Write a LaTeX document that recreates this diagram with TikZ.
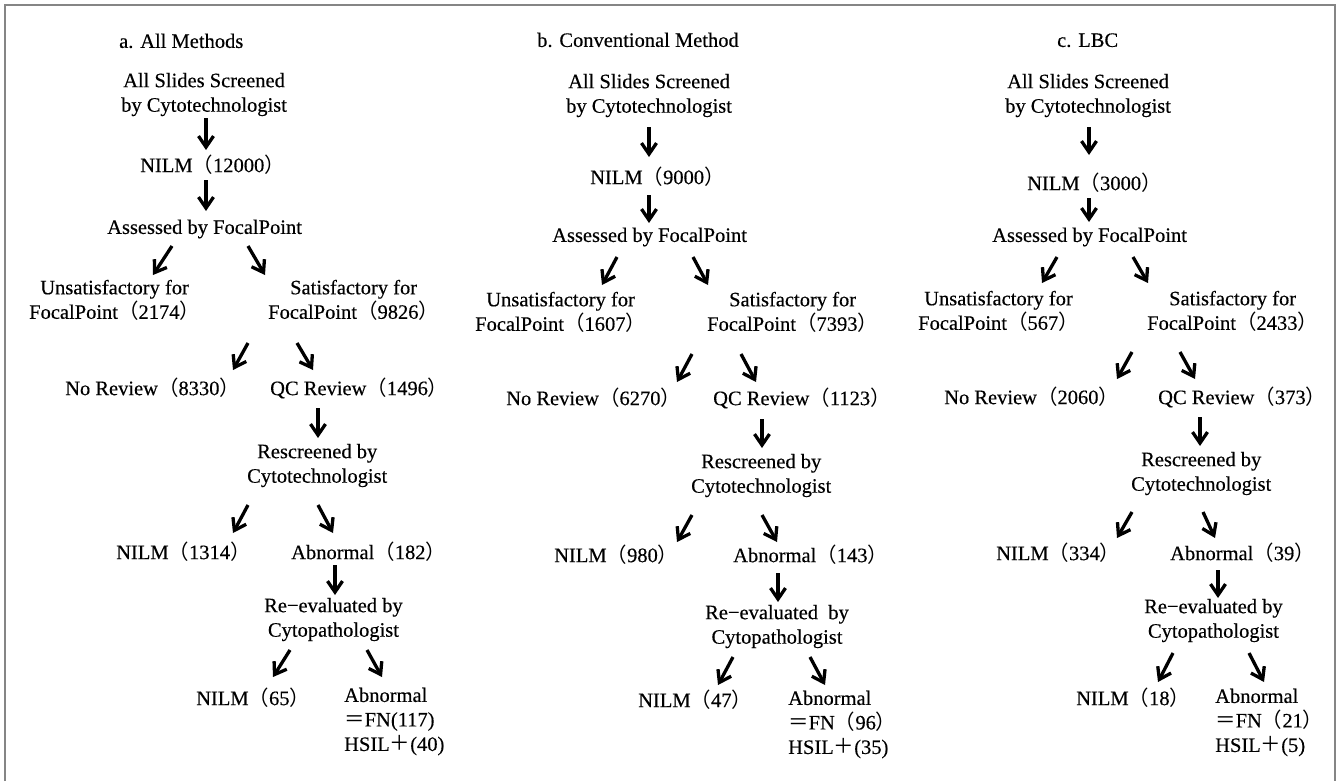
\documentclass[tikz,border=0pt]{standalone}
\usepackage{fontspec}
\setmainfont{Liberation Serif}[FakeBold=0.35]
\newfontfamily\cjk{Noto Sans CJK SC}
\usetikzlibrary{arrows.meta}
\newcommand\lp{{\cjk （}}
\newcommand\rp{{\cjk ）}}
\newcommand\feq{{\cjk ＝}}
\newcommand\fpl{{\cjk ＋}}
\newcommand\link[4]{\draw[arr] ([shift={(#2)}]#1.west) -- ([shift={(#4)}]#3.west);}
\begin{document}
\begin{tikzpicture}[x=1bp,y=-1bp,
  lbl/.style={inner sep=0pt, align=center, anchor=west, font=\fontsize{20.5bp}{24.5bp}\selectfont,
    execute at begin node=\strut, execute at end node=\strut},
  lblL/.style={lbl, align=left},
  arr/.style={line width=3.3bp, line cap=butt, -{Straight Barb[length=11bp,width=15bp,line width=3.3bp]}},
  frame/.style={draw=black!48, line width=2bp}]
\useasboundingbox (0,0) rectangle (1338,781);
\draw[frame] (5,781) -- (5,5) -- (1335,5) -- (1335,781);

% ---------- panel a ----------
\node[lbl] (ta) at (119,43) {a. All Methods};
\node[lbl] (a1) at (121,96) {All Slides Screened\\by Cytotechnologist};
\node[lbl] (a2) at (140,167) {NILM\lp 12000\rp};
\node[lbl] (a3) at (107,229) {Assessed by FocalPoint};
\node[lbl] (a4) at (29,303) {Unsatisfactory for\\FocalPoint\lp 2174\rp};
\node[lbl] (a5) at (268,303) {Satisfactory for\\FocalPoint\lp 9826\rp};
\node[lbl] (a6) at (65,390) {No Review\lp 8330\rp};
\node[lbl] (a7) at (270,390) {QC Review\lp 1496\rp};
\node[lbl] (a8) at (247,467) {Rescreened by\\Cytotechnologist};
\node[lbl] (a9) at (116,554) {NILM\lp 1314\rp};
\node[lbl] (a10) at (291,554) {Abnormal\lp 182\rp};
\node[lbl] (a11) at (264,621) {Re−evaluated by\\Cytopathologist};
\node[lbl] (a12) at (196,700) {NILM\lp 65\rp};
\node[lblL] (a13) at (344,723) {Abnormal\\\feq FN(117)\\HSIL\fpl(40)};

\link{a1}{85,22}{a2}{66,-17}
\link{a2}{66,13}{a3}{99,-18}
\link{a3}{65,17}{a4}{124,-28}
\link{a3}{141,17}{a5}{-3,-28}
\link{a5}{-20,40}{a6}{168,-20}
\link{a5}{29,40}{a7}{43,-20}
\link{a7}{48,18}{a8}{71,-29}
\link{a8}{1,38}{a9}{117,-21}
\link{a8}{71,38}{a10}{42,-21}
\link{a10}{44,11}{a11}{71,-26}
\link{a11}{26,29}{a12}{77,-23}
\link{a11}{103,29}{a13}{38,-46}

% ---------- panel b ----------
\node[lbl] (tb) at (537,42) {b. Conventional Method};
\node[lbl] (b1) at (566,97) {All Slides Screened\\by Cytotechnologist};
\node[lbl] (b2) at (590,179) {NILM\lp 9000\rp};
\node[lbl] (b3) at (552,237) {Assessed by FocalPoint};
\node[lbl] (b4) at (475,315) {Unsatisfactory for\\FocalPoint\lp 1607\rp};
\node[lbl] (b5) at (707,315) {Satisfactory for\\FocalPoint\lp 7393\rp};
\node[lbl] (b6) at (506,400) {No Review\lp 6270\rp};
\node[lbl] (b7) at (713,400) {QC Review\lp 1123\rp};
\node[lbl] (b8) at (691,477) {Rescreened by\\Cytotechnologist};
\node[lbl] (b9) at (554,557) {NILM\lp 980\rp};
\node[lbl] (b10) at (733,557) {Abnormal\lp 143\rp};
\node[lbl] (b11) at (705,628) {Re−evaluated\ \ by\\Cytopathologist};
\node[lbl] (b12) at (638,702) {NILM\lp 47\rp};
\node[lblL] (b13) at (788,726) {Abnormal\\\feq FN\lp 96\rp\\HSIL\fpl(35)};

\link{b1}{83,30}{b2}{59,-22}
\link{b2}{59,16}{b3}{97,-14}
\link{b3}{65,20}{b4}{127,-30}
\link{b3}{141,20}{b5}{1,-30}
\link{b5}{-15,39}{b6}{171,-18}
\link{b5}{34,39}{b7}{43,-18}
\link{b7}{49,19}{b8}{71,-29}
\link{b8}{1,38}{b9}{123,-15}
\link{b8}{71,38}{b10}{44,-15}
\link{b10}{45,16}{b11}{73,-26}
\link{b11}{28,29}{b12}{80,-17}
\link{b11}{105,29}{b13}{37,-41}

% ---------- panel c ----------
\node[lbl] (tc) at (1057,42) {c. LBC};
\node[lbl] (c1) at (1005,97) {All Slides Screened\\by Cytotechnologist};
\node[lbl] (c2) at (1027,185) {NILM\lp 3000\rp};
\node[lbl] (c3) at (992,237) {Assessed by FocalPoint};
\node[lbl] (c4) at (918,314) {Unsatisfactory for\\FocalPoint\lp 567\rp};
\node[lbl] (c5) at (1147,314) {Satisfactory for\\FocalPoint\lp 2433\rp};
\node[lbl] (c6) at (944,399) {No Review\lp 2060\rp};
\node[lbl] (c7) at (1158,399) {QC Review\lp 373\rp};
\node[lbl] (c8) at (1131,475) {Rescreened by\\Cytotechnologist};
\node[lbl] (c9) at (996,555) {NILM\lp 334\rp};
\node[lbl] (c10) at (1170,555) {Abnormal\lp 39\rp};
\node[lbl] (c11) at (1144,622) {Re−evaluated by\\Cytopathologist};
\node[lbl] (c12) at (1076,700) {NILM\lp 18\rp};
\node[lblL] (c13) at (1215,724) {Abnormal\\\feq FN\lp 21\rp\\HSIL\fpl(5)};

\link{c1}{84,30}{c2}{62,-30}
\link{c2}{62,13}{c3}{97,-15}
\link{c3}{65,20}{c4}{124,-31}
\link{c3}{141,20}{c5}{1,-31}
\link{c5}{-15,38}{c6}{173,-20}
\link{c5}{33,38}{c7}{37,-20}
\link{c7}{42,18}{c8}{69,-29}
\link{c8}{1,37}{c9}{121,-17}
\link{c8}{72,37}{c10}{45,-17}
\link{c10}{48,15}{c11}{74,-24}
\link{c11}{29,31}{c12}{82,-18}
\link{c11}{105,31}{c13}{49,-42}
\end{tikzpicture}
\end{document}
